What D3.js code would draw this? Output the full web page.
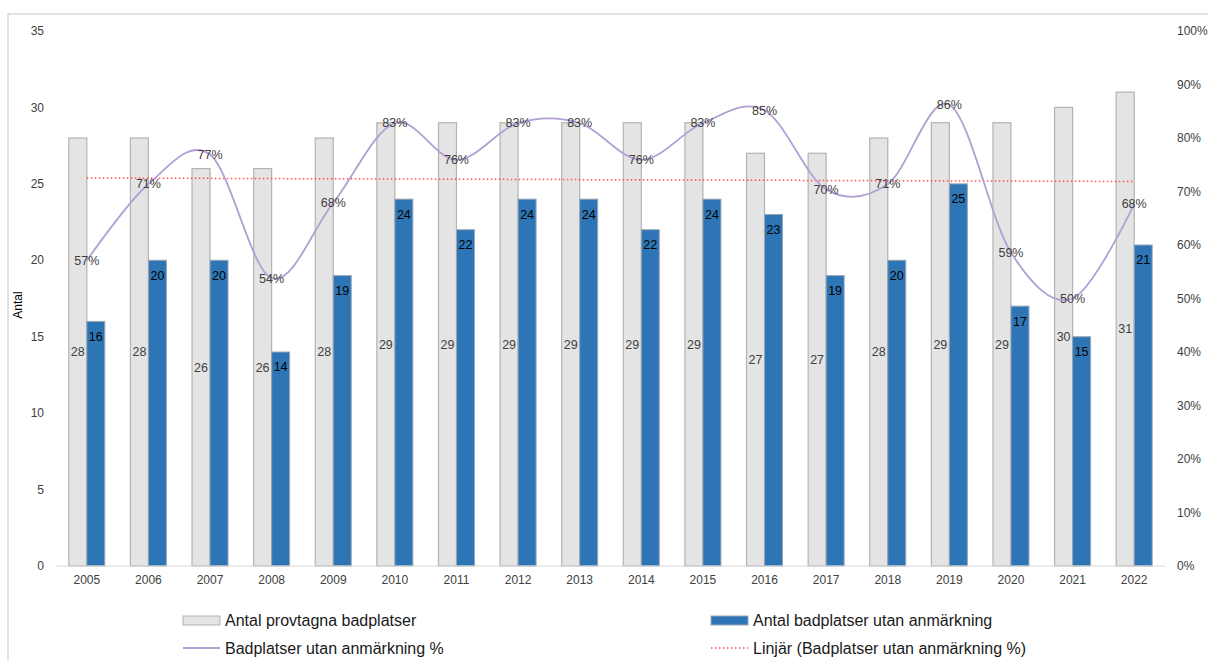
<!DOCTYPE html>
<html>
<head>
<meta charset="utf-8">
<script src="https://cdn.jsdelivr.net/npm/d3@7"></script>
<style>
  body { margin: 0; background: #fff; }
  svg { font-family: "Liberation Sans", Arial, sans-serif; }
</style>
</head>
<body>
<svg id="chart" width="1208" height="661"></svg>
<script>
"use strict";

const years = ['2005','2006','2007','2008','2009','2010','2011','2012','2013',
               '2014','2015','2016','2017','2018','2019','2020','2021','2022'];
const tested = [28, 28, 26, 26, 28, 29, 29, 29, 29, 29, 29, 27, 27, 28, 29, 29, 30, 31];
const clean = [16, 20, 20, 14, 19, 24, 22, 24, 24, 22, 24, 23, 19, 20, 25, 17, 15, 21];
const pct = [57.1, 71.4, 76.9, 53.8, 67.9, 82.8, 75.9, 82.8, 82.8, 75.9, 82.8, 85.2,
             70.4, 71.4, 86.2, 58.6, 50.0, 67.7];
const leftTicks = [0, 5, 10, 15, 20, 25, 30, 35];
const rightTicks = [0, 10, 20, 30, 40, 50, 60, 70, 80, 90, 100];
const legendNames = ['Antal provtagna badplatser', 'Antal badplatser utan anmärkning',
                     'Badplatser utan anmärkning %', 'Linjär (Badplatser utan anmärkning %)'];

const plotLeft = 56, plotRight = 1165, plotTop = 31, plotBottom = 566;
const barW = 18;

const svg = d3.select("#chart");

// outer frame (cut off at right/bottom like the screenshot)
svg.append("rect")
    .attr("x", 8).attr("y", 14)
    .attr("width", 1220).attr("height", 700)
    .attr("fill", "none").attr("stroke", "#d9d9d9").attr("stroke-width", 1.5);

const x = d3.scaleBand().domain(years).range([plotLeft, plotRight]);
const yL = d3.scaleLinear().domain([0, 35]).range([plotBottom, plotTop]);
const yR = d3.scaleLinear().domain([0, 100]).range([plotBottom, plotTop]);
const cx = d => x(d) + x.bandwidth() / 2;

// axis labels
svg.append("g").selectAll("text")
    .data(leftTicks).join("text")
    .attr("x", 44).attr("y", d => yL(d)).attr("dy", "0.35em")
    .attr("text-anchor", "end").attr("font-size", 12).attr("fill", "#404040")
    .text(d => d);

svg.append("g").selectAll("text")
    .data(rightTicks).join("text")
    .attr("x", 1177).attr("y", d => yR(d)).attr("dy", "0.35em")
    .attr("font-size", 12).attr("fill", "#404040")
    .text(d => d + "%");

svg.append("text")
    .attr("transform", "translate(22,305) rotate(-90)")
    .attr("text-anchor", "middle").attr("font-size", 12).attr("fill", "#000")
    .text("Antal");

svg.append("g").selectAll("text")
    .data(years).join("text")
    .attr("x", d => cx(d)).attr("y", 584)
    .attr("text-anchor", "middle").attr("font-size", 12).attr("fill", "#404040")
    .text(d => d);

// bars
svg.append("g").selectAll("rect")
    .data(years).join("rect")
    .attr("x", d => cx(d) - barW).attr("width", barW)
    .attr("y", (d, i) => yL(tested[i])).attr("height", (d, i) => plotBottom - yL(tested[i]))
    .attr("fill", "#e4e4e4").attr("stroke", "#b3b3b3").attr("stroke-width", 1.2);

svg.append("g").selectAll("rect")
    .data(years).join("rect")
    .attr("x", d => cx(d)).attr("width", barW)
    .attr("y", (d, i) => yL(clean[i])).attr("height", (d, i) => plotBottom - yL(clean[i]))
    .attr("fill", "#2e75b6").attr("stroke", "#9aa7b4").attr("stroke-width", 1);

// x axis line
svg.append("line")
    .attr("x1", plotLeft).attr("x2", plotRight).attr("y1", plotBottom).attr("y2", plotBottom)
    .attr("stroke", "#d9d9d9").attr("stroke-width", 1);

// bar labels
svg.append("g").selectAll("text")
    .data(years).join("text")
    .attr("x", d => cx(d) - barW / 2)
    .attr("y", (d, i) => (yL(tested[i]) + plotBottom) / 2).attr("dy", "0.35em")
    .attr("text-anchor", "middle").attr("font-size", 12.5).attr("fill", "#404040")
    .text((d, i) => tested[i]);

svg.append("g").selectAll("text")
    .data(years).join("text")
    .attr("x", d => cx(d) + barW / 2)
    .attr("y", (d, i) => yL(clean[i]) + 15).attr("dy", "0.35em")
    .attr("text-anchor", "middle").attr("font-size", 12.5).attr("fill", "#000")
    .text((d, i) => clean[i]);

// linear trend of the percentage series
const n = pct.length;
const mx = d3.mean(pct, (d, i) => i), my = d3.mean(pct);
const slope = d3.sum(pct, (d, i) => (i - mx) * (d - my)) / d3.sum(pct, (d, i) => (i - mx) ** 2);
const trend = i => my + slope * (i - mx);

svg.append("line")
    .attr("x1", cx(years[0])).attr("x2", cx(years[n - 1]))
    .attr("y1", yR(trend(0))).attr("y2", yR(trend(n - 1)))
    .attr("stroke", "#ff4b4b").attr("stroke-width", 1.5).attr("stroke-dasharray", "1.5,2.5");

// smooth percentage line
const line = d3.line()
    .x((d, i) => cx(years[i]))
    .y(d => yR(d))
    .curve(d3.curveCardinal.tension(0));

svg.append("path")
    .datum(pct)
    .attr("d", line)
    .attr("fill", "none").attr("stroke", "#b29fd6").attr("stroke-width", 1.8);

svg.append("g").selectAll("text")
    .data(pct).join("text")
    .attr("x", (d, i) => cx(years[i])).attr("y", d => yR(d)).attr("dy", "0.35em")
    .attr("text-anchor", "middle").attr("font-size", 12.5).attr("fill", "#404040")
    .text(d => Math.round(d) + "%");

// legend
const lg = svg.append("g").attr("font-size", 16).attr("fill", "#1a1a1a");
const lx = [183, 711], ly = [620, 648];

lg.append("rect").attr("x", lx[0]).attr("y", ly[0] - 4).attr("width", 37).attr("height", 9)
    .attr("fill", "#e4e4e4").attr("stroke", "#b3b3b3");
lg.append("rect").attr("x", lx[1]).attr("y", ly[0] - 4).attr("width", 37).attr("height", 9)
    .attr("fill", "#2e75b6").attr("stroke", "#9aa7b4");
lg.append("line").attr("x1", lx[0]).attr("x2", lx[0] + 37).attr("y1", ly[1]).attr("y2", ly[1])
    .attr("stroke", "#b29fd6").attr("stroke-width", 1.8);
lg.append("line").attr("x1", lx[1]).attr("x2", lx[1] + 37).attr("y1", ly[1]).attr("y2", ly[1])
    .attr("stroke", "#ff4b4b").attr("stroke-width", 1.5).attr("stroke-dasharray", "1.5,2.5");

legendNames.forEach(function(name, i) {
    lg.append("text")
        .attr("x", lx[i % 2] + 42).attr("y", ly[Math.floor(i / 2)]).attr("dy", "0.35em")
        .text(name);
});
</script>
</body>
</html>
